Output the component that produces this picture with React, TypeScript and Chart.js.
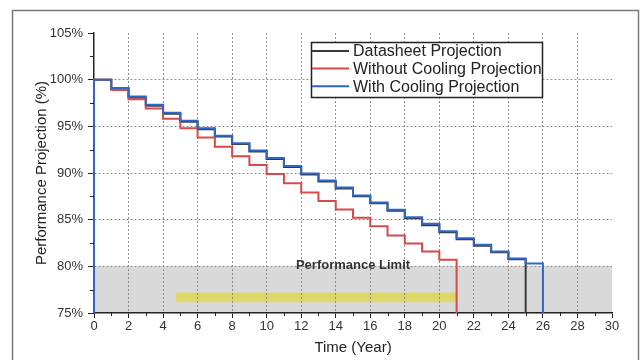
import React, { useEffect, useRef } from "react";
import { Chart, registerables } from "chart.js";

Chart.register(...registerables);

// ---- data ----
const YEARS = [0, 1, 2, 3, 4, 5, 6, 7, 8, 9, 10, 11, 12, 13, 14, 15, 16, 17, 18, 19, 20, 21, 22, 23, 24, 25, 26];
const BASELINE = 75;

const DATASHEET = [100, 99.0, 98.1, 97.2, 96.35, 95.5, 94.7, 93.9, 93.1, 92.3, 91.5, 90.65, 89.85, 89.1, 88.35, 87.5, 86.75, 85.95, 85.15, 84.4, 83.65, 82.9, 82.2, 81.5, 80.75];
const WITHOUT_COOLING = [100, 98.9, 97.9, 96.9, 95.8, 94.8, 93.8, 92.8, 91.8, 90.85, 89.9, 88.9, 87.9, 87.0, 86.1, 85.2, 84.3, 83.3, 82.45, 81.6, 80.7];
const WITH_COOLING = [100, 99.1, 98.2, 97.3, 96.45, 95.6, 94.8, 94.0, 93.2, 92.4, 91.6, 90.75, 89.95, 89.2, 88.45, 87.6, 86.85, 86.05, 85.25, 84.55, 83.75, 83.0, 82.3, 81.6, 80.85, 80.3];

const SERIES_LABELS = ["Datasheet Projection", "Without Cooling Projection", "With Cooling Projection"];
const SERIES_COLORS = ["#3a3a3a", "#d64a4a", "#2f66c8"];

const LIMIT_RANGE = [75, 80];
const LIMIT_X = [0, 30];
const LIMIT_LABEL = "Performance Limit";
const LIMIT_LABEL_X = 15;
const BAR_X = [4.75, 21];
const BAR_Y = [76.15, 77.2];

const X_MINOR = [1, 3, 5, 7, 9, 11, 13, 15, 17, 19, 21, 23, 25, 27, 29];
const Y_MINOR = [77.5, 82.5, 87.5, 92.5, 97.5, 102.5];

const FONT = "'Liberation Sans', Arial, Helvetica, sans-serif";

function stepPoints(levels: number[]) {
  const pts: { x: number; y: number }[] = [{ x: YEARS[0], y: BASELINE }];
  levels.forEach((v, i) => pts.push({ x: YEARS[i], y: v }));
  pts.push({ x: YEARS[levels.length], y: BASELINE });
  return pts;
}

const backgroundPlugin = {
  id: "bgBands",
  beforeDraw(chart: any) {
    const { ctx, scales } = chart;
    const x = scales.x;
    const y = scales.y;
    ctx.save();
    ctx.fillStyle = "#ffffff";
    ctx.fillRect(0, 0, chart.width, chart.height);
    // figure frame
    ctx.strokeStyle = "#7a7a7a";
    ctx.lineWidth = 1.5;
    ctx.strokeRect(12.5, 10.5, 626, 400);
    // limit band
    const lx0 = x.getPixelForValue(LIMIT_X[0]);
    const lx1 = x.getPixelForValue(LIMIT_X[1]);
    const ly0 = y.getPixelForValue(LIMIT_RANGE[1]);
    const ly1 = y.getPixelForValue(LIMIT_RANGE[0]);
    ctx.fillStyle = "#d9d9d9";
    ctx.fillRect(lx0, ly0, lx1 - lx0, ly1 - ly0);
    // yellow bar
    const bx0 = x.getPixelForValue(BAR_X[0]);
    const bx1 = x.getPixelForValue(BAR_X[1]);
    const by0 = y.getPixelForValue(BAR_Y[1]);
    const by1 = y.getPixelForValue(BAR_Y[0]);
    ctx.fillStyle = "#dcd96a";
    ctx.fillRect(bx0, by0, bx1 - bx0, by1 - by0);
    ctx.restore();
  },
  afterDatasetsDraw(chart: any) {
    const { ctx, scales } = chart;
    const x = scales.x;
    const y = scales.y;
    ctx.save();
    // minor ticks
    ctx.strokeStyle = "#222";
    ctx.lineWidth = 1;
    const bottom = y.getPixelForValue(BASELINE);
    const left = x.getPixelForValue(LIMIT_X[0]);
    ctx.beginPath();
    X_MINOR.forEach((v) => {
      const px = Math.round(x.getPixelForValue(v)) + 0.5;
      ctx.moveTo(px, bottom);
      ctx.lineTo(px, bottom + 3);
    });
    Y_MINOR.forEach((v) => {
      const py = Math.round(y.getPixelForValue(v)) + 0.5;
      ctx.moveTo(left, py);
      ctx.lineTo(left - 4, py);
    });
    ctx.stroke();
    // limit label
    ctx.font = `bold 13px ${FONT}`;
    ctx.fillStyle = "#333";
    ctx.textAlign = "center";
    ctx.textBaseline = "middle";
    ctx.fillText(LIMIT_LABEL, x.getPixelForValue(LIMIT_LABEL_X), y.getPixelForValue(LIMIT_RANGE[1]) - 1);
    ctx.restore();
  },
  afterDraw(chart: any) {
    const { ctx } = chart;
    ctx.save();
    const bx = 311, by = 42, bw = 231, bh = 55;
    ctx.fillStyle = "#fff";
    ctx.fillRect(bx, by, bw, bh);
    ctx.strokeStyle = "#222";
    ctx.lineWidth = 1.5;
    ctx.strokeRect(bx + 0.5, by + 0.5, bw, bh);
    ctx.font = `16px ${FONT}`;
    ctx.textAlign = "left";
    ctx.textBaseline = "middle";
    SERIES_LABELS.forEach((lab, i) => {
      const cy = 51 + i * 17.6;
      ctx.strokeStyle = SERIES_COLORS[i];
      ctx.lineWidth = 2;
      ctx.beginPath();
      ctx.moveTo(bx + 1, cy);
      ctx.lineTo(bx + 38, cy);
      ctx.stroke();
      ctx.fillStyle = "#222";
      ctx.fillText(lab, bx + 42, cy + 1);
    });
    ctx.restore();
  },
};

export default function App() {
  const ref = useRef<HTMLCanvasElement | null>(null);
  useEffect(() => {
    if (!ref.current) return;
    Chart.defaults.font.family = FONT;
    const common = {
      stepped: "before" as const,
      pointRadius: 0,
      borderWidth: 2,
      fill: false,
      clip: false as any,
    };
    const chart = new Chart(ref.current, {
      type: "line",
      data: {
        datasets: [
          { ...common, label: SERIES_LABELS[0], data: stepPoints(DATASHEET), borderColor: SERIES_COLORS[0], order: 2 },
          { ...common, label: SERIES_LABELS[1], data: stepPoints(WITHOUT_COOLING), borderColor: SERIES_COLORS[1], order: 1 },
          { ...common, label: SERIES_LABELS[2], data: stepPoints(WITH_COOLING), borderColor: SERIES_COLORS[2], order: 0 },
        ],
      },
      options: {
        responsive: false,
        animation: false,
        layout: { padding: { left: 0, right: 28, top: 33, bottom: 0 } },
        plugins: { legend: { display: false }, tooltip: { enabled: false } },
        scales: {
          x: {
            type: "linear",
            min: 0,
            max: 30,
            afterFit: (s: any) => { s.height = 47; },
            ticks: { stepSize: 2, color: "#333", font: { size: 13 }, padding: 1, maxRotation: 0 },
            grid: {
              color: (c: any) => (c.tick && (c.tick.value === 0 || c.tick.value === 30) ? "rgba(0,0,0,0)" : "#8c8c8c"),
              lineWidth: 1,
              tickColor: "#222",
              tickLength: 5,
            },
            border: { color: "#222", width: 1.5, dash: [2, 2] },
            title: { display: true, text: "Time (Year)", color: "#222", font: { size: 15 }, padding: { top: 0, bottom: 3 } },
          },
          y: {
            type: "linear",
            min: 75,
            max: 105,
            afterFit: (s: any) => { s.width = 94; },
            ticks: { stepSize: 5, color: "#333", font: { size: 13 }, padding: 5, callback: (v: any) => v + "%" },
            grid: {
              color: (c: any) => (c.tick && (c.tick.value === 75 || c.tick.value === 105) ? "rgba(0,0,0,0)" : "#8c8c8c"),
              lineWidth: 1,
              tickColor: "#222",
              tickLength: 6,
            },
            border: { color: "#222", width: 1.5, dash: [2, 2] },
            title: { display: true, text: "Performance Projection (%)", color: "#222", font: { size: 15 }, padding: { top: 33, bottom: 0 } },
          },
        },
      },
      plugins: [backgroundPlugin],
    });
    return () => chart.destroy();
  }, []);
  return (
    <div style={{ position: "fixed", left: 0, top: 0, width: 640, height: 360, background: "#fff" }}>
      <canvas ref={ref} width={640} height={360} style={{ display: "block" }} />
    </div>
  );
}
